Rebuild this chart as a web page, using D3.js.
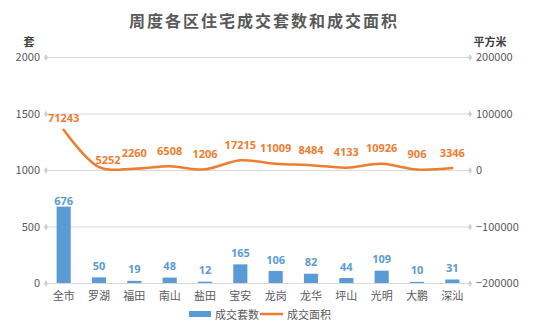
<!DOCTYPE html>
<html>
<head>
<meta charset="utf-8">
<script src="https://cdn.jsdelivr.net/npm/d3@7"></script>
<style>
  html, body { margin: 0; padding: 0; background: #fff; }
  svg { display: block; font-family: "Noto Sans CJK SC", "Noto Sans", sans-serif; }
</style>
</head>
<body>
<svg id="chart" width="536" height="322"></svg>
<script>
// Weekly residential transactions by district
const districts = ["全市", "罗湖", "福田", "南山", "盐田", "宝安", "龙岗", "龙华", "坪山", "光明", "大鹏", "深汕"];
const units = [676, 50, 19, 48, 12, 165, 106, 82, 44, 109, 10, 31];          // 成交套数 (套)
const areas = [71243, 5252, 2260, 6508, 1206, 17215, 11009, 8484, 4133, 10926, 906, 3346]; // 成交面积 (平方米)
const leftTicks = [0, 500, 1000, 1500, 2000];
const rightTicks = [-200000, -100000, 0, 100000, 200000];
const seriesNames = ["成交套数", "成交面积"];

(function draw() {
  const BLUE = "#5B9BD5", ORANGE = "#ED7D31", TEXT = "#595959", GRID = "#D9D9D9";

  const svg = d3.select("#chart");
  const plotLeft = 46, plotRight = 470, plotTop = 57, plotBottom = 283;

  const x = d3.scaleBand().domain(districts).range([plotLeft, plotRight]).paddingInner(0.6).paddingOuter(0.3);
  const xc = d => x(d) + x.bandwidth() / 2;
  const yL = d3.scaleLinear().domain([0, 2000]).range([plotBottom, plotTop]);
  const yR = d3.scaleLinear().domain([-200000, 200000]).range([plotBottom, plotTop]);

  // Title
  svg.append("text").attr("x", 264).attr("y", 20).attr("text-anchor", "middle")
    .attr("dominant-baseline", "central").attr("fill", TEXT)
    .style("font-size", "16px").style("font-weight", "bold").style("letter-spacing", "2px")
    .text("周度各区住宅成交套数和成交面积");

  // Axis unit labels
  svg.append("text").attr("x", 29).attr("y", 41).attr("text-anchor", "middle")
    .attr("dominant-baseline", "central").attr("fill", "#404040")
    .style("font-size", "11px").style("font-weight", "bold").text("套");
  svg.append("text").attr("x", 490).attr("y", 41).attr("text-anchor", "middle")
    .attr("dominant-baseline", "central").attr("fill", "#404040")
    .style("font-size", "11px").style("font-weight", "bold").text("平方米");

  // Gridlines
  svg.append("g").selectAll("line").data(leftTicks).join("line")
    .attr("x1", plotLeft).attr("x2", plotRight)
    .attr("y1", d => yL(d) + 0.5).attr("y2", d => yL(d) + 0.5)
    .attr("stroke", GRID).attr("stroke-width", 1);

  // Left axis
  const axisL = svg.append("g").attr("transform", `translate(${plotLeft},0)`)
    .call(d3.axisLeft(yL).tickValues(leftTicks).tickSize(0).tickPadding(6).tickFormat(d3.format("d")));
  axisL.select(".domain").remove();
  axisL.selectAll("text").attr("fill", TEXT).style("font-size", "11px")
    .style("font-family", "'Noto Sans CJK SC', sans-serif");

  // Right axis
  const axisR = svg.append("g").attr("transform", `translate(${plotRight},0)`)
    .call(d3.axisRight(yR).tickValues(rightTicks).tickSize(0).tickPadding(6).tickFormat(d3.format("d")));
  axisR.select(".domain").remove();
  axisR.selectAll("text").attr("fill", TEXT).style("font-size", "11px")
    .style("font-family", "'Noto Sans CJK SC', sans-serif");

  // Diamond tick markers at gridline ends
  const diamond = d3.symbol().type(d3.symbolDiamond).size(14);
  svg.append("g").selectAll("path").data(leftTicks).join("path")
    .attr("d", diamond).attr("transform", d => `translate(${plotLeft},${yL(d) + 0.5})`).attr("fill", "#D0D0D0");
  svg.append("g").selectAll("path").data(rightTicks).join("path")
    .attr("d", diamond).attr("transform", d => `translate(${plotRight},${yR(d) + 0.5})`).attr("fill", "#D0D0D0");

  // Bars
  svg.append("g").selectAll("rect").data(districts).join("rect")
    .attr("x", d => x(d)).attr("width", x.bandwidth())
    .attr("y", (d, i) => yL(units[i])).attr("height", (d, i) => yL(0) - yL(units[i]))
    .attr("fill", BLUE);

  // Category labels
  svg.append("g").selectAll("text").data(districts).join("text")
    .attr("x", d => xc(d)).attr("y", 295).attr("text-anchor", "middle")
    .attr("dominant-baseline", "central").attr("fill", TEXT).style("font-size", "11px")
    .text(d => d);

  // Area line
  const line = d3.line().x((d, i) => xc(districts[i])).y(d => yR(d)).curve(d3.curveCatmullRom.alpha(0.5));
  svg.append("path").datum(areas).attr("d", line)
    .attr("fill", "none").attr("stroke", ORANGE).attr("stroke-width", 2.5).attr("stroke-linecap", "round");

  // Bar value labels
  svg.append("g").selectAll("text").data(units).join("text")
    .attr("x", (d, i) => xc(districts[i])).attr("y", d => Math.max(yL(d) - 12, 200))
    .attr("text-anchor", "middle").attr("dominant-baseline", "central")
    .attr("fill", BLUE).style("font-size", "11px").style("font-weight", "bold")
    .style("font-family", "'Open Sans', sans-serif")
    .text(d => d);

  // Line value labels
  svg.append("g").selectAll("text").data(areas).join("text")
    .attr("x", (d, i) => xc(districts[i]) + (i === 1 ? 9 : 0))
    .attr("y", (d, i) => yR(d) - (i === 0 ? 12 : i === 1 ? 8 : 16))
    .attr("text-anchor", "middle").attr("dominant-baseline", "central")
    .attr("fill", ORANGE).style("font-size", "11px").style("font-weight", "bold")
    .style("font-family", "'Open Sans', sans-serif")
    .text(d => d);

  // Legend
  const lg = svg.append("g");
  lg.append("rect").attr("x", 189).attr("y", 311).attr("width", 22).attr("height", 6).attr("fill", BLUE);
  lg.append("text").attr("x", 215).attr("y", 314).attr("dominant-baseline", "central")
    .attr("fill", TEXT).style("font-size", "11px").text(seriesNames[0]);
  lg.append("line").attr("x1", 260).attr("x2", 283).attr("y1", 314).attr("y2", 314)
    .attr("stroke", ORANGE).attr("stroke-width", 2.5);
  lg.append("text").attr("x", 287).attr("y", 314).attr("dominant-baseline", "central")
    .attr("fill", TEXT).style("font-size", "11px").text(seriesNames[1]);
})();
</script>
</body>
</html>
